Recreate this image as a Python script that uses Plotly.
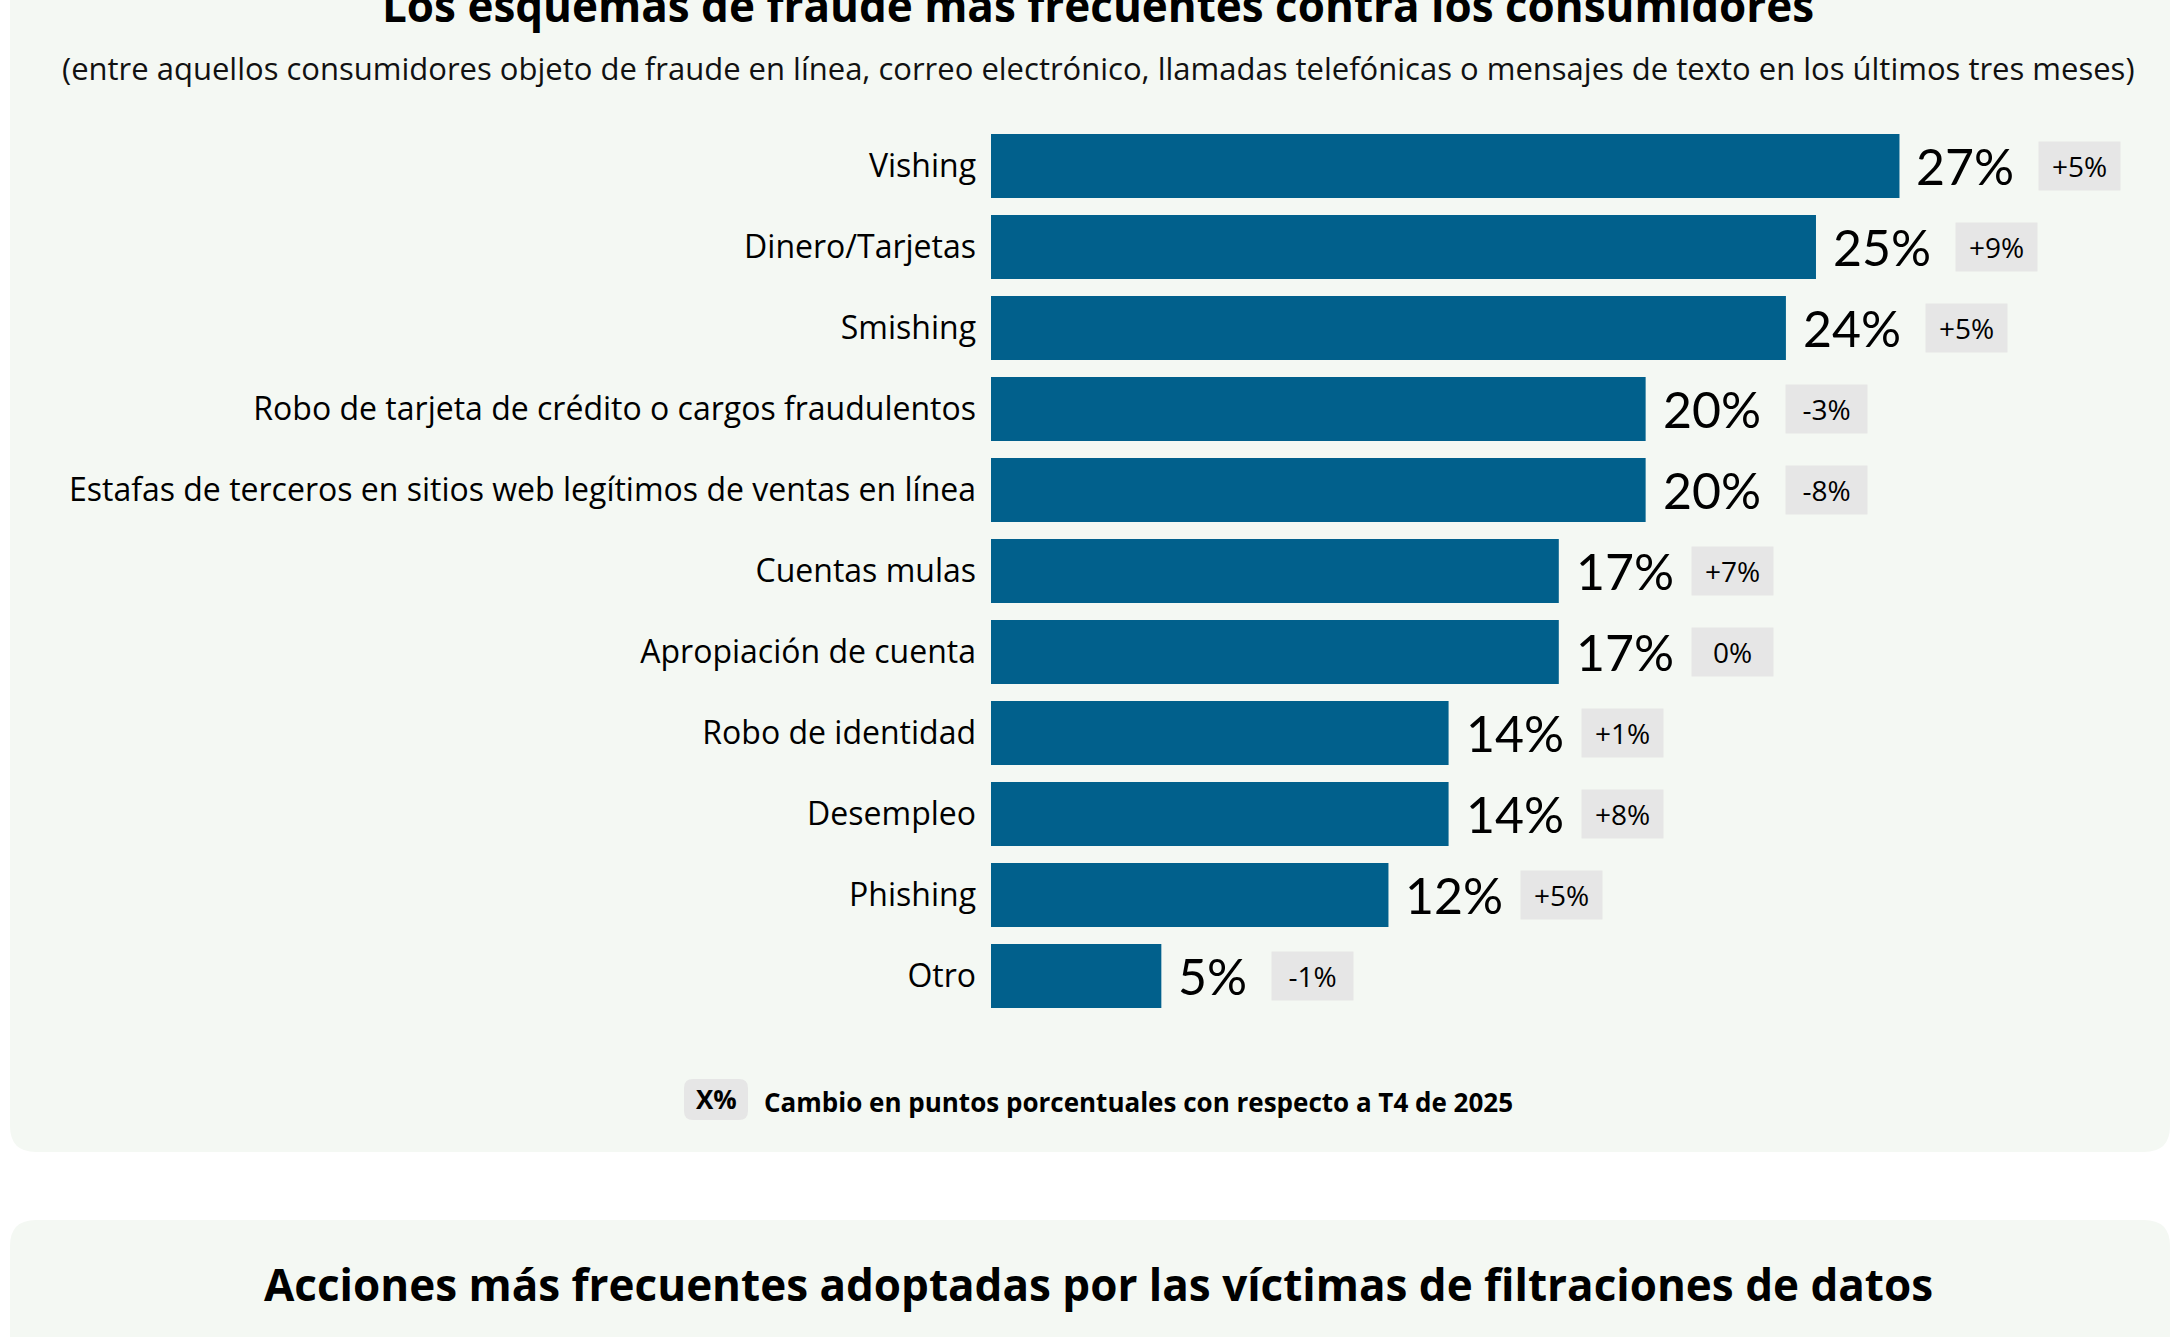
import plotly.graph_objects as go

W, H = 2171, 1337

categories = [
    "Vishing",
    "Dinero/Tarjetas",
    "Smishing",
    "Robo de tarjeta de crédito o cargos fraudulentos",
    "Estafas de terceros en sitios web legítimos de ventas en línea",
    "Cuentas mulas",
    "Apropiación de cuenta",
    "Robo de identidad",
    "Desempleo",
    "Phishing",
    "Otro",
]
values = [27.2, 24.7, 23.8, 19.6, 19.6, 17.0, 17.0, 13.7, 13.7, 11.9, 5.1]
value_labels = ["27%", "25%", "24%", "20%", "20%", "17%", "17%", "14%", "14%", "12%", "5%"]
changes = ["+5%", "+9%", "+5%", "-3%", "-8%", "+7%", "0%", "+1%", "+8%", "+5%", "-1%"]

title = "Los esquemas de fraude más frecuentes contra los consumidores"
subtitle = ("(entre aquellos consumidores objeto de fraude en línea, correo electrónico, "
            "llamadas telefónicas o mensajes de texto en los últimos tres meses)")
legend_text = "Cambio en puntos porcentuales con respecto a T4 de 2025"
next_title = "Acciones más frecuentes adoptadas por las víctimas de filtraciones de datos"

BAR = "#01608c"
CARD = "#f4f8f3"
BADGE = "#e6e6e6"
FONT = "Open Sans"
NUM_FONT = "Lato"


def px(x):
    return x / W


def py(y):
    return 1 - y / H


def rounded_rect(x0, y0, x1, y1, r):
    pts = [
        ("M", (x0 + r, y0)), ("L", (x1 - r, y0)), ("Q", (x1, y0), (x1, y0 + r)),
        ("L", (x1, y1 - r)), ("Q", (x1, y1), (x1 - r, y1)),
        ("L", (x0 + r, y1)), ("Q", (x0, y1), (x0, y1 - r)),
        ("L", (x0, y0 + r)), ("Q", (x0, y0), (x0 + r, y0)),
    ]
    out = ""
    for cmd, *ps in pts:
        out += cmd + " ".join(f"{px(a):.5f},{py(b):.5f}" for a, b in ps) + " "
    return out + "Z"


def label_width(s):
    # rough pixel width of the big value label
    w = 0
    for ch in s:
        w += 40 if ch == "%" else (22 if ch == "1" else 29)
    return w


fig = go.Figure(go.Bar(
    x=values,
    y=categories,
    orientation="h",
    marker=dict(color=BAR, line=dict(width=0)),
    hoverinfo="skip",
))

annotations = []
for cat, v, lab, ch in zip(categories, values, value_labels, changes):
    annotations.append(dict(
        x=v, y=cat, xref="x", yref="y", text=lab, showarrow=False,
        xanchor="left", yanchor="middle", xshift=15,
        font=dict(family=NUM_FONT, size=50, color="#000"),
    ))
    annotations.append(dict(
        x=v, y=cat, xref="x", yref="y", text=ch, showarrow=False,
        xanchor="left", yanchor="middle", xshift=17 + label_width(lab) + 24,
        width=67, height=34, borderpad=7, bgcolor=BADGE, align="center",
        font=dict(family=FONT, size=28, color="#000"),
    ))

annotations += [
    dict(x=px(1098), y=py(5), xref="paper", yref="paper", text=f"<b>{title}</b>",
         showarrow=False, xanchor="center", yanchor="middle",
         font=dict(family=FONT, size=44, color="#000")),
    dict(x=px(1098), y=py(68), xref="paper", yref="paper", text=subtitle,
         showarrow=False, xanchor="center", yanchor="middle",
         font=dict(family=FONT, size=31, color="#111")),
    dict(x=px(716), y=py(1099), xref="paper", yref="paper", text="<b>X%</b>",
         showarrow=False, xanchor="center", yanchor="middle",
         font=dict(family=FONT, size=26, color="#000")),
    dict(x=px(762), y=py(1102), xref="paper", yref="paper", text=f"<b>{legend_text}</b>",
         showarrow=False, xanchor="left", yanchor="middle",
         font=dict(family=FONT, size=26, color="#000")),
    dict(x=px(1098), y=py(1284), xref="paper", yref="paper", text=f"<b>{next_title}</b>",
         showarrow=False, xanchor="center", yanchor="middle",
         font=dict(family=FONT, size=44, color="#000")),
]

shapes = [
    dict(type="path", xref="paper", yref="paper", layer="below",
         path=rounded_rect(10, -60, 2170, 1152, 26), fillcolor=CARD, line=dict(width=0)),
    dict(type="path", xref="paper", yref="paper", layer="below",
         path=rounded_rect(10, 1220, 2170, 1420, 26), fillcolor=CARD, line=dict(width=0)),
    dict(type="path", xref="paper", yref="paper", layer="below",
         path=rounded_rect(684, 1079, 748, 1120, 9), fillcolor=BADGE, line=dict(width=0)),
]

n = len(categories)
row = 81
top = 166 - row / 2
bottom = top + n * row

fig.update_layout(
    width=W, height=H,
    margin=dict(l=0, r=0, t=0, b=0),
    paper_bgcolor="white",
    plot_bgcolor="rgba(0,0,0,0)",
    showlegend=False,
    bargap=0.21,
    font=dict(family=FONT, color="#000"),
    xaxis=dict(domain=[px(991), 1], range=[0, 1180 / 33.4], visible=False, fixedrange=True),
    yaxis=dict(
        domain=[py(bottom), py(top)],
        range=[n - 0.5, -0.5],
        categoryorder="array", categoryarray=categories,
        showgrid=False, zeroline=False, showline=False, ticks="",
        ticklabelstandoff=14,
        tickfont=dict(family=FONT, size=32, color="#000"),
        fixedrange=True,
    ),
    annotations=annotations,
    shapes=shapes,
)

fig.write_html("out.html", config={"displayModeBar": False},
               post_script="document.body.style.margin='0';")
